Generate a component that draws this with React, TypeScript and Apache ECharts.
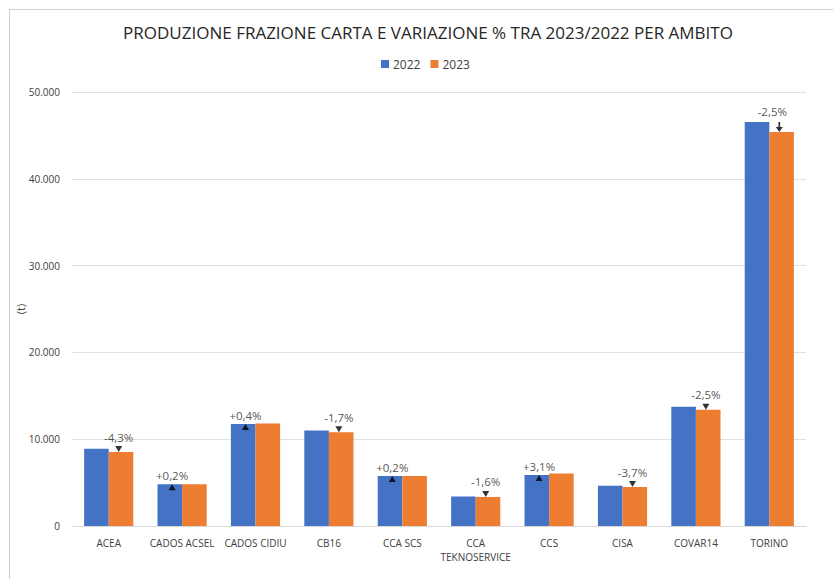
import React, { useEffect, useRef } from "react";
import * as echarts from "echarts";

const categories = ["ACEA", "CADOS ACSEL", "CADOS CIDIU", "CB16", "CCA SCS", "CCA\nTEKNOSERVICE", "CCS", "CISA", "COVAR14", "TORINO"];
const values2022 = [8900, 4800, 11750, 11000, 5750, 3400, 5870, 4650, 13750, 46550];
const values2023 = [8520, 4810, 11800, 10810, 5760, 3345, 6050, 4480, 13400, 45390];
const variations = ["-4,3%", "+0,2%", "+0,4%", "-1,7%", "+0,2%", "-1,6%", "+3,1%", "-3,7%", "-2,5%", "-2,5%"];
const yTicks = [0, 10000, 20000, 30000, 40000, 50000];

export default function App() {
  const ref = useRef<HTMLDivElement>(null);
  useEffect(() => {
    if (!ref.current) return;
    const chart = echarts.init(ref.current, undefined, { renderer: "svg" });
    const font = "Open Sans";
    const markers = categories.map((c, i) => {
      const up = variations[i].startsWith("+");
      const arrow = i === categories.length - 1;
      if (arrow) {
        return {
          value: [i, values2023[i]],
          symbol: "path://M3,0 L5,0 L5,5 L8,5 L4,10 L0,5 L3,5 Z",
          symbolSize: [7, 10],
          symbolKeepAspect: false,
          symbolOffset: [10, -5],
          label: { show: true, formatter: variations[i], position: "top", distance: 5, offset: [-7, 0] },
        };
      }
      return {
        value: [i, up ? values2022[i] : values2023[i]],
        symbol: "triangle",
        symbolRotate: up ? 0 : 180,
        symbolOffset: up ? [-10, 3] : [10, -3],
        label: {
          show: true,
          formatter: variations[i],
          position: "top",
          distance: 3,
        },
      };
    });
    chart.setOption({
      animation: false,
      backgroundColor: "#ffffff",
      title: {
        text: "PRODUZIONE FRAZIONE CARTA E VARIAZIONE % TRA 2023/2022 PER AMBITO",
        left: 423,
        textAlign: "center",
        top: 19,
        textStyle: { fontFamily: font, fontSize: 17, fontWeight: "normal", color: "#262626" },
      },
      legend: {
        top: 53,
        left: 376,
        itemWidth: 8,
        itemHeight: 8,
        itemGap: 10,
        icon: "rect",
        textStyle: { fontFamily: font, fontSize: 12, color: "#404040", padding: [0, 0, 0, -1] },
        data: ["2022", "2023"],
      },
      graphic: [
        { type: "line", shape: { x1: 9, y1: 9.5, x2: 833, y2: 9.5 }, style: { stroke: "#d0d0d0", lineWidth: 1 } },
        { type: "line", shape: { x1: 9.5, y1: 9, x2: 9.5, y2: 579 }, style: { stroke: "#d0d0d0", lineWidth: 1 } },
      ],
      grid: { left: 72, right: 27, top: 92, bottom: 53, containLabel: false },
      xAxis: {
        type: "category",
        data: categories,
        axisTick: { show: false },
        axisLine: { lineStyle: { color: "#d9d9d9" } },
        axisLabel: { fontFamily: font, fontSize: 10, color: "#404040", margin: 10, interval: 0, lineHeight: 14 },
      },
      yAxis: {
        type: "value",
        min: 0,
        max: 50000,
        interval: 10000,
        name: "(t)",
        nameLocation: "middle",
        nameGap: 46,
        nameMoveOverlap: false,
        nameTextStyle: { fontFamily: font, fontSize: 11, color: "#404040" },
        axisLabel: {
          fontFamily: font,
          fontSize: 10,
          color: "#404040",
          margin: 12,
          formatter: (v: number) => (yTicks.includes(v) ? (v === 0 ? "0" : (v / 1000).toFixed(0) + ".000") : ""),
        },
        splitLine: { lineStyle: { color: "#e0e0e0" } },
      },
      series: [
        {
          name: "2022",
          type: "bar",
          data: values2022,
          barGap: "0%",
          barCategoryGap: "33%",
          itemStyle: { color: "#4472C4" },
        },
        {
          name: "2023",
          type: "bar",
          data: values2023,
          itemStyle: { color: "#ED7D31" },
        },
        {
          name: "var",
          type: "scatter",
          data: markers,
          symbolSize: [7, 6],
          itemStyle: { color: "#000000" },
          label: { fontFamily: font, fontSize: 11.5, color: "#262626" },
          z: 5,
        },
      ],
    });
    return () => chart.dispose();
  }, []);
  return <div ref={ref} style={{ position: "fixed", left: 0, top: 0, width: 833, height: 579 }} />;
}
